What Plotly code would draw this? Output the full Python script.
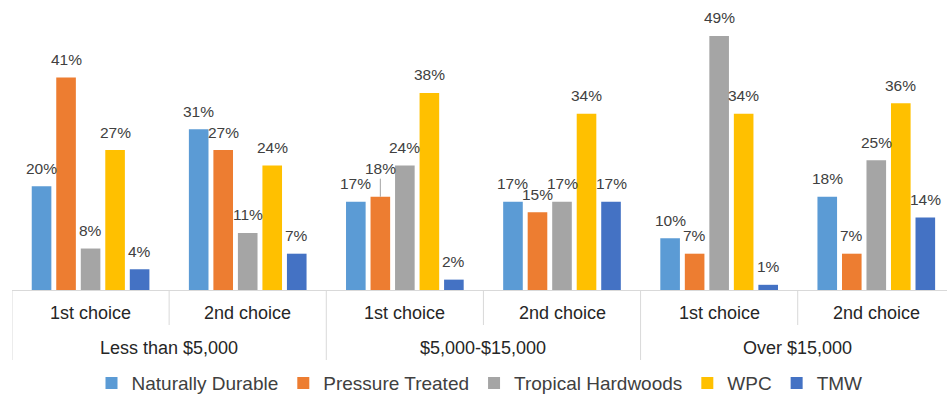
import plotly.graph_objects as go

# Price tiers (outer level) and preference rank (inner level)
price_groups = ["Less than $5,000", "Less than $5,000",
                "$5,000-$15,000", "$5,000-$15,000",
                "Over $15,000", "Over $15,000"]
choices = ["1st choice", "2nd choice"] * 3

# Share of respondents (%) per material
naturally_durable = [20, 31, 17, 17, 10, 18]
pressure_treated = [41, 27, 18, 15, 7, 7]
tropical_hardwoods = [8, 11, 24, 17, 49, 25]
wpc = [27, 24, 38, 34, 34, 36]
tmw = [4, 7, 2, 17, 1, 14]

series_names = ["Naturally Durable", "Pressure Treated", "Tropical Hardwoods", "WPC", "TMW"]
series_values = [naturally_durable, pressure_treated, tropical_hardwoods, wpc, tmw]
colors = ["#5B9BD5", "#ED7D31", "#A5A5A5", "#FFC000", "#4472C4"]

FONT = "Liberation Sans, Arial, sans-serif"
BAR_GAP = 0.22
GRID = "#D9D9D9"
n_series = len(series_names)
slot = (1 - BAR_GAP) / n_series

fig = go.Figure()
for name, vals, col in zip(series_names, series_values, colors):
    fig.add_trace(go.Bar(
        x=[price_groups, choices], y=vals, name=name,
        marker=dict(color=col, line=dict(width=0)),
        hoverinfo="name+y",
    ))

annotations = []
shapes = []

# Value labels above each bar
for k, vals in enumerate(series_values):
    for i, v in enumerate(vals):
        xpos = i + (k - (n_series - 1) / 2) * slot
        label_font = dict(family=FONT, size=15.5, color="#404040")
        if series_names[k] == "Pressure Treated" and i == 2:
            # this label is lifted clear of its neighbours, with a leader line
            annotations.append(dict(
                x=xpos, y=v, xref="x", yref="y", text=f"{v}%",
                showarrow=True, ax=0, ay=-28, arrowhead=0, arrowwidth=0.8,
                arrowcolor="#8c8c8c", standoff=0, font=label_font,
            ))
        else:
            annotations.append(dict(
                x=xpos, y=v, xref="x", yref="y", text=f"{v}%",
                showarrow=False, yshift=18, font=label_font,
            ))

# Two-level category labels under the axis
tick_font = dict(family=FONT, size=18, color="#262626")
for i, c in enumerate(choices):
    annotations.append(dict(
        x=i, y=0, xref="x", yref="paper", yshift=-23, text=c,
        showarrow=False, yanchor="middle", font=tick_font,
    ))
seen = []
for g in price_groups:
    if g not in seen:
        seen.append(g)
for gi, g in enumerate(seen):
    idx = [i for i, p in enumerate(price_groups) if p == g]
    annotations.append(dict(
        x=(idx[0] + idx[-1]) / 2, y=0, xref="x", yref="paper", yshift=-58, text=g,
        showarrow=False, yanchor="middle", font=tick_font,
    ))
    # long divider at the start of each price tier
    shapes.append(dict(
        type="line", xref="x", yref="paper", x0=idx[0] - 0.5, x1=idx[0] - 0.5,
        ysizemode="pixel", yanchor=0, y0=0, y1=-70,
        line=dict(color=GRID, width=1),
    ))
    # short divider between the choices inside the tier
    for j in idx[:-1]:
        shapes.append(dict(
            type="line", xref="x", yref="paper", x0=j + 0.5, x1=j + 0.5,
            ysizemode="pixel", yanchor=0, y0=0, y1=-35,
            line=dict(color=GRID, width=1),
        ))

fig.update_layout(
    width=947, height=397,
    margin=dict(l=12, r=0, t=10, b=107),
    paper_bgcolor="white", plot_bgcolor="white",
    barmode="group", bargap=BAR_GAP, bargroupgap=0.2,
    font=dict(family=FONT, color="#404040"),
    showlegend=True,
    legend=dict(orientation="h", x=0.5, xanchor="center",
                yref="container", y=0.035, yanchor="middle",
                font=dict(family=FONT, size=19, color="#404040")),
    annotations=annotations,
    shapes=shapes,
)
fig.update_xaxes(
    type="multicategory", range=[-0.5, 5.45],
    showline=True, linecolor=GRID, linewidth=1,
    showticklabels=False, showdividers=False, ticks="",
    showgrid=False,
)
fig.update_yaxes(range=[0, 54], visible=False, showgrid=False, zeroline=False)

fig.write_html("out.html")
